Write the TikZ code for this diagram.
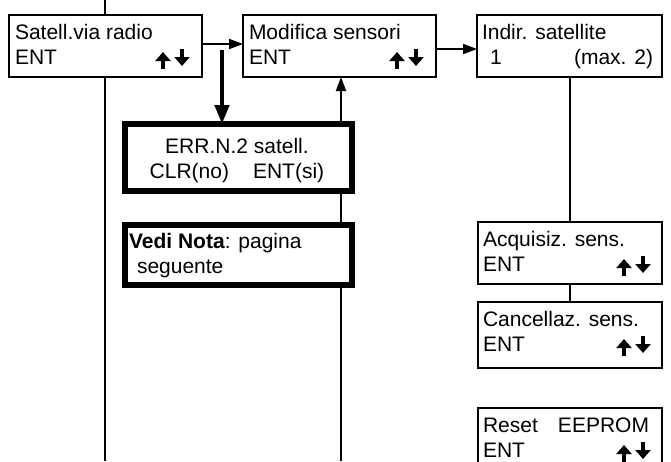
\documentclass[tikz,border=0pt]{standalone}
\usepackage{fontspec}
\setmainfont{Liberation Sans}
\usetikzlibrary{arrows.meta,calc,backgrounds}
\begin{document}
\begin{tikzpicture}[x=1pt,y=-1pt,
  box/.style={draw, line width=2.5pt, fill=white, inner sep=0pt, outer sep=0pt, anchor=north west},
  tbox/.style={box, line width=5.5pt},
  txt/.style={inner sep=0pt, outer sep=0pt, font=\fontsize{21}{25}\selectfont},
  keyarrow/.style={line width=4.5pt, -{Triangle[length=9pt,width=15pt]}},
  keys/.pic={
    \draw[keyarrow] (0,17) -- (0,0);
    \draw[keyarrow] (19,-3) -- (19,14);
  },
  conn/.style={line width=2pt},
  arr/.style={conn, -{Triangle[length=14pt,width=10pt]}},
  bigarr/.style={line width=4.5pt, -{Triangle[length=19pt,width=14pt]}}]
\useasboundingbox (0,0) rectangle (671,461);
\clip (0,0) rectangle (671,461);
% boxes
\node[box, minimum width=193pt, minimum height=62pt] (b1) at (9,15) {};
\node[box, minimum width=193pt, minimum height=62pt] (b2) at (243,15) {};
\node[box, minimum width=185pt, minimum height=62pt] (b3) at (477,15) {};
\node[tbox, minimum width=227pt, minimum height=67pt] (err) at (125,124) {};
\node[tbox, minimum width=227pt, minimum height=60pt] (vedi) at (125,225) {};
\node[box, minimum width=184pt, minimum height=62pt] (acq) at (478,222) {};
\node[box, minimum width=184pt, minimum height=66pt] (canc) at (478,302) {};
\node[box, minimum width=184pt, minimum height=63pt] (reset) at (478,408) {};
% texts
\node[txt, anchor=base west] (t1a) at ($(b1.north west)+(6,24)$) {Satell.via radio};
\node[txt, anchor=base west] (t1b) at ($(b1.north west)+(6,49)$) {ENT};
\pic at ($(b1.north east)+(-39,37)$) {keys};
\node[txt, anchor=base west] (t2a) at ($(b2.north west)+(6,24)$) {Modifica sensori};
\node[txt, anchor=base west] (t2b) at ($(b2.north west)+(6,49)$) {ENT};
\pic at ($(b2.north east)+(-39,37)$) {keys};
\node[txt, anchor=base west] (t3a) at ($(b3.north west)+(5,24)$) {Indir. satellite};
\node[txt, anchor=base west] (t3b) at ($(b3.north west)+(13,49)$) {1};
\node[txt, anchor=base east] (t3c) at ($(b3.north east)+(-9,49)$) {(max. 2)};
\node[txt, anchor=base] (te1) at (237,153) {ERR.N.2 satell.};
\node[txt, anchor=base] (te2) at (237,178) {CLR(no)\hspace{24pt}ENT(si)};
\node[txt, anchor=base west] (tv1) at (129,248) {\textbf{Vedi Nota}: pagina};
\node[txt, anchor=base west] (tv2) at (137,273) {seguente};
\node[txt, anchor=base west] (ta1) at ($(acq.north west)+(5,24)$) {Acquisiz. sens.};
\node[txt, anchor=base west] (ta2) at ($(acq.north west)+(5,49)$) {ENT};
\pic at ($(acq.north east)+(-38,37)$) {keys};
\node[txt, anchor=base west] (tc1) at ($(canc.north west)+(5,24)$) {Cancellaz. sens.};
\node[txt, anchor=base west] (tc2) at ($(canc.north west)+(5,49)$) {ENT};
\pic at ($(canc.north east)+(-38,37)$) {keys};
\node[txt, anchor=base west] (tr1) at ($(reset.north west)+(5,24)$) {Reset};
\node[txt, anchor=base east] (tr2) at ($(reset.north east)+(-13,24)$) {EEPROM};
\node[txt, anchor=base west] (tr3) at ($(reset.north west)+(5,49)$) {ENT};
\pic at ($(reset.north east)+(-38,37)$) {keys};
% free ends
\coordinate (top1) at (105,0);
\coordinate (bot1) at (105,461);
\coordinate (bot2) at (341,461);
\coordinate (h1) at (0,44);
\coordinate (h2) at (0,49);
\coordinate (d0) at (222,50);
\coordinate (v3) at (570,0);
\begin{pgfonlayer}{background}
\draw[conn] (top1) -- (top1 |- b1.north);
\draw[conn] (b1.south -| bot1) -- (bot1);
\draw[arr] (bot2) -- (b2.south -| bot2);
\draw[arr] (b1.east |- h1) -- (b2.west |- h1);
\draw[arr] (b2.east |- h2) -- (b3.west |- h2);
\draw[bigarr] (d0) -- (err.north -| d0);
\draw[conn] (b3.south -| v3) -- (acq.north -| v3);
\draw[conn] (acq.south -| v3) -- (canc.north -| v3);
\end{pgfonlayer}
\end{tikzpicture}
\end{document}
